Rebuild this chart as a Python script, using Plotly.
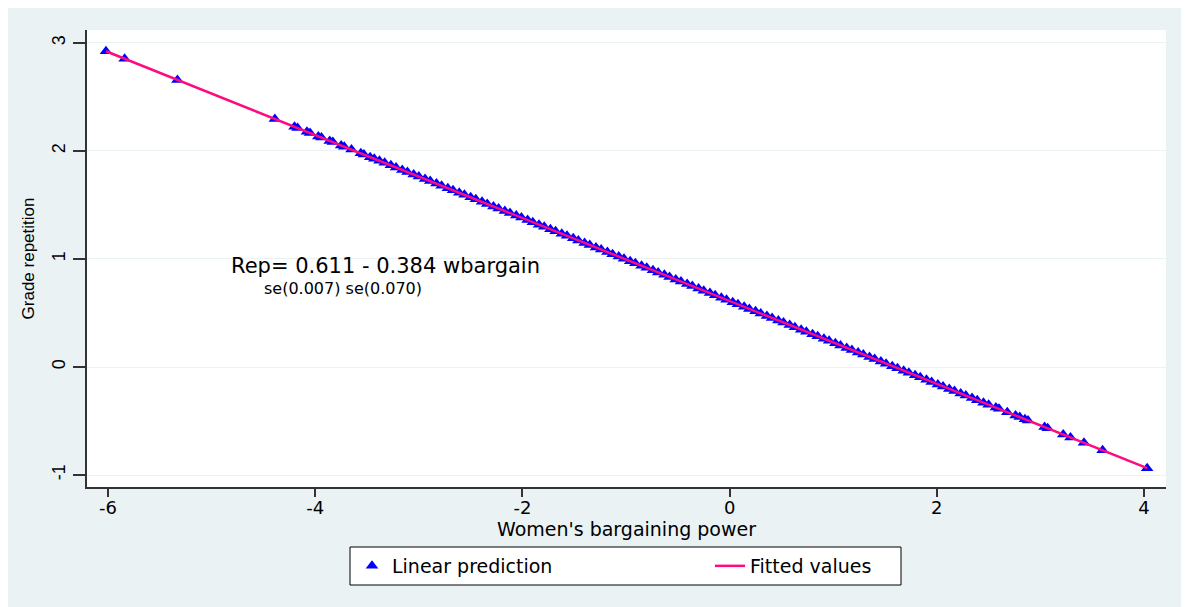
import plotly.graph_objects as go

# Women's bargaining power (x) and linear prediction of grade repetition (y)
x_wbargain = [
    -6.02, -5.84, -5.33, -4.39, -4.20, -4.17, -4.08, -4.05, -3.97, -3.94,
    -3.86, -3.83, -3.75, -3.72, -3.65, -3.56, -3.53,
    -3.47, -3.43, -3.38, -3.33, -3.27, -3.22, -3.16, -3.11, -3.05, -3.00,
    -2.94, -2.89, -2.83, -2.78, -2.72, -2.67, -2.61, -2.56, -2.50, -2.45,
    -2.39, -2.34, -2.28, -2.23, -2.17, -2.12, -2.06, -2.01, -1.95, -1.90,
    -1.84, -1.79, -1.73, -1.68, -1.62, -1.57, -1.51, -1.46, -1.40, -1.35,
    -1.29, -1.24, -1.18, -1.13, -1.07, -1.02, -0.96, -0.91, -0.85, -0.80,
    -0.74, -0.69, -0.63, -0.58, -0.52, -0.47, -0.41, -0.36, -0.30, -0.25,
    -0.19, -0.14, -0.08, -0.03, 0.03, 0.08, 0.14, 0.19, 0.25, 0.30,
    0.36, 0.41, 0.47, 0.52, 0.58, 0.63, 0.69, 0.74, 0.80, 0.85,
    0.91, 0.96, 1.02, 1.07, 1.13, 1.18, 1.24, 1.29, 1.35, 1.40,
    1.46, 1.51, 1.57, 1.62, 1.68, 1.73, 1.79, 1.84, 1.90, 1.95,
    2.01, 2.06, 2.12, 2.17, 2.23, 2.28, 2.34, 2.39, 2.45, 2.50,
    2.57, 2.60, 2.68, 2.76, 2.80, 2.85, 2.88, 3.04, 3.07, 3.22,
    3.29, 3.42, 3.60, 4.03,
]
y_linpred = [
    2.923, 2.854, 2.658, 2.297, 2.224, 2.212, 2.178, 2.166, 2.135, 2.124,
    2.093, 2.082, 2.051, 2.039, 2.013, 1.978, 1.967,
    1.943, 1.928, 1.909, 1.890, 1.867, 1.847, 1.824, 1.805, 1.782, 1.763,
    1.740, 1.721, 1.698, 1.679, 1.655, 1.636, 1.613, 1.594, 1.571, 1.552,
    1.529, 1.510, 1.487, 1.467, 1.444, 1.425, 1.402, 1.383, 1.360, 1.341,
    1.318, 1.298, 1.275, 1.256, 1.233, 1.214, 1.191, 1.172, 1.149, 1.129,
    1.106, 1.087, 1.064, 1.045, 1.022, 1.003, 0.980, 0.960, 0.937, 0.918,
    0.895, 0.876, 0.853, 0.834, 0.811, 0.791, 0.768, 0.749, 0.726, 0.707,
    0.684, 0.665, 0.642, 0.622, 0.599, 0.580, 0.557, 0.538, 0.515, 0.496,
    0.473, 0.454, 0.431, 0.411, 0.388, 0.369, 0.346, 0.327, 0.304, 0.285,
    0.262, 0.242, 0.219, 0.200, 0.177, 0.158, 0.135, 0.116, 0.093, 0.073,
    0.050, 0.031, 0.008, -0.011, -0.034, -0.053, -0.076, -0.096, -0.119, -0.138,
    -0.161, -0.180, -0.203, -0.222, -0.245, -0.265, -0.288, -0.307, -0.330, -0.349,
    -0.376, -0.387, -0.418, -0.449, -0.464, -0.483, -0.495, -0.556, -0.568, -0.625,
    -0.652, -0.702, -0.771, -0.937,
]

x_ticks = [-6, -4, -2, 0, 2, 4]
y_ticks = [-1, 0, 1, 2, 3]

BG = "#EAF2F3"
AXC = "#333333"
OFF = 8  # page body margin
W, H = 1189 - OFF, 607 - OFF
ML, MR, MT, MB = 87 - OFF, 23, 30 - OFF, 120
PW, PH = W - ML - MR, H - MT - MB


def px(xp):
    # screen pixel x -> paper fraction
    return (xp - OFF - ML) / PW


def py(yp):
    # screen pixel y -> paper fraction
    return (H - MB - (yp - OFF)) / PH


fig = go.Figure()
fig.add_trace(go.Scatter(
    x=x_wbargain, y=y_linpred, mode="markers", name="Linear prediction",
    marker=dict(symbol="triangle-up", size=11, color="#0000FF", line=dict(width=0)),
))
fig.add_trace(go.Scatter(
    x=x_wbargain, y=y_linpred, mode="lines", name="Fitted values",
    line=dict(color="#FF0A7F", width=2.5),
))

shapes = [
    # legend box
    dict(type="rect", xref="paper", yref="paper", x0=px(350), x1=px(901), y0=py(585), y1=py(547),
         fillcolor="white", line=dict(color="black", width=1), layer="below"),
]

fig.update_layout(
    width=W, height=H, autosize=False,
    margin=dict(l=ML, r=MR, t=MT, b=MB, pad=0),
    paper_bgcolor=BG, plot_bgcolor="white",
    font=dict(family="DejaVu Sans", size=16, color="black"),
    shapes=shapes,
    showlegend=True,
    legend=dict(
        orientation="h", x=px(352), xanchor="left", y=py(566), yanchor="middle",
        bgcolor="rgba(0,0,0,0)", borderwidth=0,
        entrywidth=313, entrywidthmode="pixels",
        font=dict(family="DejaVu Sans", size=19, color="black"),
        traceorder="normal",
    ),
    xaxis=dict(
        range=[-6.203, 4.212], tickvals=x_ticks, ticktext=[str(v) for v in x_ticks],
        showgrid=False, zeroline=False,
        showline=True, linecolor=AXC, linewidth=2,
        ticks="outside", ticklen=8, tickwidth=1.5, tickcolor=AXC,
        ticklabelstandoff=-5,
        tickfont=dict(family="DejaVu Sans", size=18, color="black"),
        title=dict(text="Women's bargaining power", standoff=0,
                   font=dict(family="DejaVu Sans", size=19, color="black")),
    ),
    yaxis=dict(
        range=[-1.111, 3.120], tickvals=y_ticks, ticktext=[str(v) for v in y_ticks],
        showgrid=True, gridcolor=BG, gridwidth=1.2, zeroline=False,
        showline=True, linecolor=AXC, linewidth=2,
        ticks="outside", ticklen=12, tickwidth=1.5, tickcolor=AXC,
        tickangle=-90, ticklabelstandoff=1,
        tickfont=dict(family="Liberation Sans", size=18, color="black"),
        title=dict(text="Grade repetition", standoff=10,
                   font=dict(family="Liberation Sans", size=17, color="black")),
    ),
    annotations=[
        dict(x=-3.32, y=0.935, xref="x", yref="y", text="Rep= 0.611 - 0.384 wbargain",
             showarrow=False, xanchor="center", yanchor="middle",
             font=dict(family="DejaVu Sans", size=21, color="black")),
        dict(x=-3.73, y=0.731, xref="x", yref="y", text="se(0.007) se(0.070)",
             showarrow=False, xanchor="center", yanchor="middle",
             font=dict(family="DejaVu Sans", size=16, color="black")),
    ],
)

fig.write_html("out.html")
